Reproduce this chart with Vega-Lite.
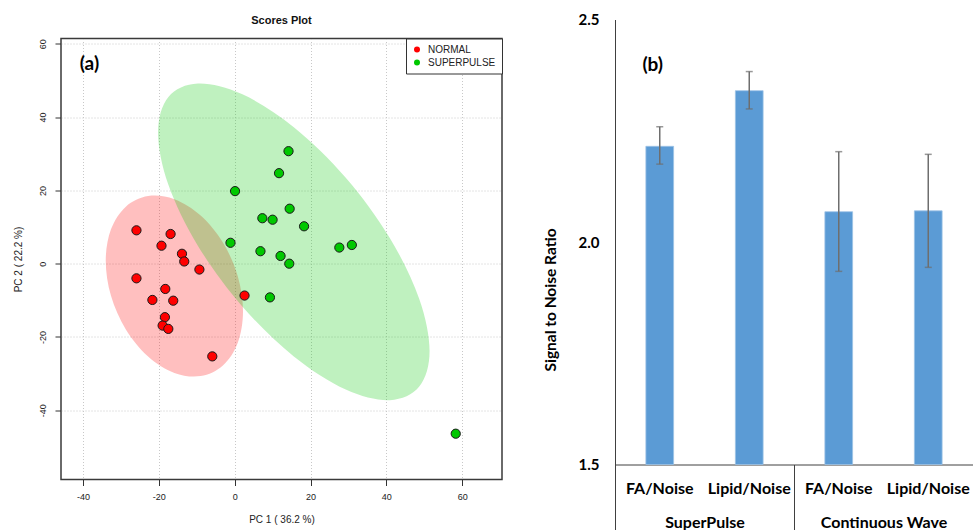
{
  "$schema": "https://vega.github.io/schema/vega-lite/v6.json",
  "background": "white",
  "padding": {"left": 12, "top": 12.5, "right": 0, "bottom": 0},
  "spacing": 39,
  "resolve": {"scale": {"color": "independent"}, "legend": {"color": "independent"}},
  "datasets": {
    "scores": [
      {"group": "NORMAL", "pc1": -25.9, "pc2": 9.1},
      {"group": "NORMAL", "pc1": -19.3, "pc2": 4.9},
      {"group": "NORMAL", "pc1": -16.9, "pc2": 8.1},
      {"group": "NORMAL", "pc1": -13.9, "pc2": 2.7},
      {"group": "NORMAL", "pc1": -13.3, "pc2": 0.6},
      {"group": "NORMAL", "pc1": -9.3, "pc2": -1.6},
      {"group": "NORMAL", "pc1": -25.9, "pc2": -4.0},
      {"group": "NORMAL", "pc1": -18.3, "pc2": -6.9},
      {"group": "NORMAL", "pc1": -21.7, "pc2": -9.9},
      {"group": "NORMAL", "pc1": -16.2, "pc2": -10.1},
      {"group": "NORMAL", "pc1": -18.4, "pc2": -14.6},
      {"group": "NORMAL", "pc1": -19.0, "pc2": -16.9},
      {"group": "NORMAL", "pc1": -17.5, "pc2": -17.8},
      {"group": "NORMAL", "pc1": -5.9, "pc2": -25.3},
      {"group": "NORMAL", "pc1": 2.6, "pc2": -8.7},
      {"group": "SUPERPULSE", "pc1": 14.2, "pc2": 30.7},
      {"group": "SUPERPULSE", "pc1": 11.7, "pc2": 24.7},
      {"group": "SUPERPULSE", "pc1": 0.1, "pc2": 19.8},
      {"group": "SUPERPULSE", "pc1": 14.5, "pc2": 15.0},
      {"group": "SUPERPULSE", "pc1": 7.3, "pc2": 12.4},
      {"group": "SUPERPULSE", "pc1": 10.0, "pc2": 12.0},
      {"group": "SUPERPULSE", "pc1": 18.3, "pc2": 10.2},
      {"group": "SUPERPULSE", "pc1": -1.1, "pc2": 5.7},
      {"group": "SUPERPULSE", "pc1": 6.8, "pc2": 3.4},
      {"group": "SUPERPULSE", "pc1": 12.1, "pc2": 2.1},
      {"group": "SUPERPULSE", "pc1": 14.4, "pc2": 0.0},
      {"group": "SUPERPULSE", "pc1": 27.6, "pc2": 4.4},
      {"group": "SUPERPULSE", "pc1": 30.9, "pc2": 5.1},
      {"group": "SUPERPULSE", "pc1": 9.3, "pc2": -9.2},
      {"group": "SUPERPULSE", "pc1": 58.3, "pc2": -46.4}
    ],
    "ellipseNormal": [
      {"i": 0, "pc1": 2.2, "pc2": -13.0},
      {"i": 1, "pc1": 0.82, "pc2": -3.42},
      {"i": 2, "pc1": -3.1, "pc2": 5.78},
      {"i": 3, "pc1": -8.97, "pc2": 13.16},
      {"i": 4, "pc1": -15.9, "pc2": 17.61},
      {"i": 5, "pc1": -22.83, "pc2": 18.46},
      {"i": 6, "pc1": -28.7, "pc2": 15.56},
      {"i": 7, "pc1": -32.62, "pc2": 9.36},
      {"i": 8, "pc1": -34.0, "pc2": 0.82},
      {"i": 9, "pc1": -32.62, "pc2": -8.78},
      {"i": 10, "pc1": -28.7, "pc2": -17.98},
      {"i": 11, "pc1": -22.83, "pc2": -25.36},
      {"i": 12, "pc1": -15.9, "pc2": -29.81},
      {"i": 13, "pc1": -8.97, "pc2": -30.66},
      {"i": 14, "pc1": -3.1, "pc2": -27.76},
      {"i": 15, "pc1": 0.82, "pc2": -21.56}
    ],
    "ellipseSuper": [
      {"i": 0, "pc1": 51.4, "pc2": -23.85},
      {"i": 1, "pc1": 48.68, "pc2": -9.61},
      {"i": 2, "pc1": 40.91, "pc2": 7.0},
      {"i": 3, "pc1": 29.3, "pc2": 23.45},
      {"i": 4, "pc1": 15.6, "pc2": 37.24},
      {"i": 5, "pc1": 1.9, "pc2": 46.27},
      {"i": 6, "pc1": -9.71, "pc2": 49.16},
      {"i": 7, "pc1": -17.48, "pc2": 45.47},
      {"i": 8, "pc1": -20.2, "pc2": 35.77},
      {"i": 9, "pc1": -17.48, "pc2": 21.53},
      {"i": 10, "pc1": -9.71, "pc2": 4.92},
      {"i": 11, "pc1": 1.9, "pc2": -11.53},
      {"i": 12, "pc1": 15.6, "pc2": -25.32},
      {"i": 13, "pc1": 29.3, "pc2": -34.35},
      {"i": 14, "pc1": 40.91, "pc2": -37.24},
      {"i": 15, "pc1": 48.68, "pc2": -33.55}
    ],
    "snr": [
      {"group": "SuperPulse", "metric": "FA/Noise", "snr": 2.215, "lo": 2.175, "hi": 2.259},
      {"group": "SuperPulse", "metric": "Lipid/Noise", "snr": 2.34, "lo": 2.299, "hi": 2.383},
      {"group": "Continuous Wave", "metric": "FA/Noise", "snr": 2.068, "lo": 1.934, "hi": 2.203},
      {"group": "Continuous Wave", "metric": "Lipid/Noise", "snr": 2.07, "lo": 1.943, "hi": 2.197}
    ]
  },
  "hconcat": [
    {
      "width": 441,
      "height": 441,
      "title": {"text": "Scores Plot", "font": "Liberation Sans", "fontSize": 11, "fontWeight": "bold", "color": "#111", "offset": 12},
      "view": {"stroke": "#3A3A3A", "strokeWidth": 1.5},
      "encoding": {
        "x": {"field": "pc1", "type": "quantitative",
          "scale": {"domain": [-45.8, 70.5], "nice": false, "zero": false},
          "axis": {"title": "PC 1 ( 36.2 %)", "values": [-40, -20, 0, 20, 40, 60], "labelExpr": "'' + datum.value",
            "labelFont": "Liberation Sans", "labelFontSize": 9, "labelColor": "#222",
            "titleFont": "Liberation Sans", "titleFontSize": 10, "titleFontWeight": "normal", "titleColor": "#222",
            "domain": false, "ticks": true, "tickSize": 6, "tickColor": "#333",
            "grid": true, "gridDash": [1, 2], "gridColor": "#C8C8C8", "labelPadding": 7, "titlePadding": 13}},
        "y": {"field": "pc2", "type": "quantitative",
          "scale": {"domain": [-58.9, 61.45], "nice": false, "zero": false},
          "axis": {"title": "PC 2 ( 22.2 %)", "values": [-40, -20, 0, 20, 40, 60], "labelExpr": "'' + datum.value",
            "labelFont": "Liberation Sans", "labelFontSize": 9, "labelColor": "#222",
            "labelAngle": -90, "labelAlign": "center", "labelBaseline": "bottom",
            "titleFont": "Liberation Sans", "titleFontSize": 10, "titleFontWeight": "normal", "titleColor": "#222",
            "domain": false, "ticks": true, "tickSize": 6, "tickColor": "#333",
            "grid": true, "gridDash": [1, 2], "gridColor": "#C8C8C8", "labelPadding": 8, "titlePadding": 15}}
      },
      "layer": [
        {"data": {"name": "ellipseNormal"},
          "mark": {"type": "line", "interpolate": "cardinal-closed", "fill": "#FF0000", "fillOpacity": 0.25, "stroke": "#FF0000", "strokeOpacity": 0, "clip": true},
          "encoding": {"order": {"field": "i", "type": "quantitative"}}},
        {"data": {"name": "ellipseSuper"},
          "mark": {"type": "line", "interpolate": "cardinal-closed", "fill": "#00C800", "fillOpacity": 0.25, "stroke": "#00C800", "strokeOpacity": 0, "clip": true},
          "encoding": {"order": {"field": "i", "type": "quantitative"}}},
        {"data": {"name": "scores"},
          "mark": {"type": "point", "shape": "circle", "filled": true, "size": 85, "opacity": 1, "stroke": "#1A1A1A", "strokeWidth": 1},
          "encoding": {"color": {"field": "group", "type": "nominal",
            "scale": {"domain": ["NORMAL", "SUPERPULSE"], "range": ["#FF0000", "#00C800"]},
            "legend": {"title": null, "orient": "top-right", "offset": 0, "padding": 6, "strokeColor": "#333", "fillColor": "white",
              "symbolType": "circle", "symbolSize": 36, "symbolStrokeWidth": 0, "labelFont": "Liberation Sans", "labelFontSize": 10, "labelColor": "#222",
              "labelOffset": 6, "rowPadding": 3}}}},
        {"data": {"values": [{"pc1": -38.3, "pc2": 54.4, "label": "(a)"}]},
          "mark": {"type": "text", "font": "Lato", "fontSize": 19, "fontWeight": "bold", "color": "#000"},
          "encoding": {"text": {"field": "label"}}}
      ]
    },
    {
      "width": 358,
      "height": 426,
      "view": {"stroke": null},
      "data": {"name": "snr"},
      "encoding": {
        "x": {"field": "group", "type": "nominal", "sort": ["SuperPulse", "Continuous Wave"],
          "scale": {"paddingInner": 0, "paddingOuter": 0},
          "axis": {"title": null, "labelAngle": 0, "labelFont": "Lato", "labelFontSize": 16, "labelFontWeight": "bold", "labelColor": "#000",
            "domain": true, "domainColor": "#404040", "domainWidth": 1, "ticks": true, "tickBand": "extent", "tickSize": 66, "tickColor": "#404040", "tickWidth": 1,
            "labelPadding": -16, "labelBaseline": "top"}},
        "xOffset": {"field": "metric", "type": "nominal", "sort": ["FA/Noise", "Lipid/Noise"],
          "scale": {"paddingInner": 0.69, "paddingOuter": 0.345}}
      },
      "layer": [
        {"mark": {"type": "bar", "color": "#5B9BD5", "stroke": "#9DC3E6", "strokeWidth": 0.8},
          "encoding": {"y": {"field": "snr", "type": "quantitative",
            "scale": {"domain": [1.5, 2.5], "range": [426, -19], "zero": false, "nice": false},
            "axis": {"title": "Signal to Noise Ratio", "values": [1.5, 2.0, 2.5], "format": ".1f",
              "labelFont": "Lato", "labelFontSize": 15, "labelFontWeight": "bold", "labelColor": "#000", "labelPadding": 16,
              "ticks": false, "grid": false, "domain": true, "domainColor": "#404040", "domainWidth": 1,
              "titleFont": "Lato", "titleFontSize": 15.5, "titleFontWeight": "bold", "titleColor": "#000", "titlePadding": 20, "titleY": 261}},
            "y2": {"datum": 1.5}}},
        {"mark": {"type": "rule", "color": "#6E6E6E", "strokeWidth": 1.5},
          "encoding": {"y": {"field": "lo", "type": "quantitative"}, "y2": {"field": "hi"}}},
        {"mark": {"type": "tick", "color": "#6E6E6E", "thickness": 1.5, "size": 7},
          "encoding": {"y": {"field": "lo", "type": "quantitative"}}},
        {"mark": {"type": "tick", "color": "#6E6E6E", "thickness": 1.5, "size": 7},
          "encoding": {"y": {"field": "hi", "type": "quantitative"}}},
        {"mark": {"type": "text", "font": "Lato", "fontSize": 16, "fontWeight": "bold", "color": "#000", "baseline": "middle"},
          "encoding": {"y": {"datum": 1.445, "type": "quantitative"}, "text": {"field": "metric"}}},
        {"data": {"values": [{"group": "SuperPulse", "metric": "FA/Noise", "label": "(b)", "pos": 2.397}]},
          "mark": {"type": "text", "font": "Lato", "fontSize": 19, "fontWeight": "bold", "color": "#000", "dx": -7},
          "encoding": {"y": {"field": "pos", "type": "quantitative"}, "text": {"field": "label"}}}
      ]
    }
  ]
}
